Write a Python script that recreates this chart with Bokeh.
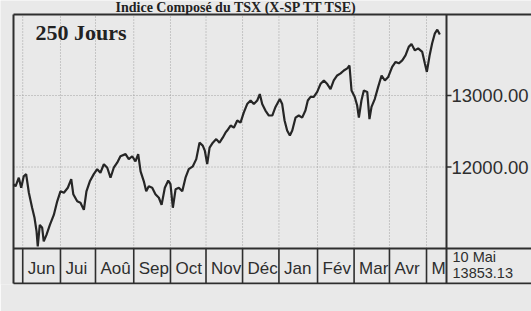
from bokeh.plotting import figure
from bokeh.models import Range1d, LinearAxis, FixedTicker, NumeralTickFormatter
from bokeh.core.properties import value
from bokeh.embed import file_html
from bokeh.resources import INLINE

# ---------------- data ----------------
title_text = "Indice Composé du TSX (X-SP TT TSE)"
period_text = "250 Jours"
last_date = "10 Mai"

trading_day = [0, 1.2, 3.1, 4.5, 6.0, 7.4, 9.0, 10.9, 12.3, 13.5,
               14.2, 15.4, 16.8, 17.7, 19.3, 21.3, 23.6, 25.6, 27.5, 29.5,
               31.8, 33.8, 35.0, 37.3, 39.2, 41.2, 42.7, 44.7, 47.0, 49.0,
               50.9, 52.9, 54.9, 56.8, 58.7, 60.7, 62.6, 65.6, 67.5, 69.5,
               71.4, 73.0, 74.4, 76.3, 77.7, 79.2, 81.2, 83.1, 85.1, 86.7,
               88.6, 90.6, 91.9, 93.3, 94.9, 96.8, 98.8, 100.7, 102.6, 105.0,
               107.0, 108.9, 110.8, 112.0, 113.4, 114.8, 116.7, 118.7, 120.6, 122.5,
               124.1, 125.1, 127.1, 129.0, 131.0, 132.9, 134.8, 136.8, 138.8, 140.7,
               142.7, 144.2, 145.6, 147.5, 149.5, 151.5, 153.4, 155.9, 157.3, 158.7,
               160.2, 161.8, 163.2, 165.1, 167.0, 169.0, 170.9, 172.3, 173.9, 175.8,
               177.8, 179.7, 181.7, 183.7, 185.6, 187.5, 189.5, 191.5, 193.4, 195.4,
               196.7, 197.9, 199.8, 201.2, 202.2, 203.7, 205.1, 207.1, 208.4, 209.6,
               211.5, 213.5, 215.5, 217.4, 219.4, 221.7, 223.7, 225.6, 227.6, 229.5,
               231.4, 233.0, 235.0, 236.9, 239.3, 240.8, 242.0, 243.6, 245.1, 246.7,
               248.1, 249.6]

index_value = [11760, 11730, 11850, 11710, 11870, 11900, 11640, 11430, 11290, 11100,
               10890, 11190, 11150, 10960, 11050, 11190, 11330, 11520, 11660, 11640,
               11710, 11830, 11620, 11520, 11500, 11400, 11660, 11800, 11900, 11970,
               11920, 12040, 11990, 11850, 11990, 12060, 12150, 12180, 12110, 12150,
               12080, 12180, 11940, 11800, 11660, 11730, 11710, 11620, 11570, 11470,
               11710, 11810, 11760, 11430, 11690, 11710, 11660, 11850, 11970, 12010,
               12110, 12340, 12300, 12230, 12040, 12270, 12340, 12390, 12340, 12410,
               12480, 12510, 12580, 12550, 12650, 12620, 12760, 12880, 12930, 12880,
               12930, 13020, 12880, 12790, 12720, 12720, 12840, 12950, 12880, 12650,
               12510, 12440, 12510, 12690, 12720, 12690, 12790, 12930, 12980, 12980,
               13050, 13160, 13210, 13160, 13090, 13210, 13280, 13310, 13350, 13380,
               13420, 13070, 12980, 12860, 12690, 12930, 13070, 13050, 12670, 12840,
               12950, 13120, 13280, 13210, 13260, 13400, 13470, 13450, 13490, 13560,
               13680, 13720, 13630, 13660, 13610, 13450, 13330, 13560, 13730, 13870,
               13920, 13853.13]

# month boxes (trading-day positions of month starts; last = end of chart)
month_bounds = [0, 5.4, 27.5, 48.0, 70.4, 91.9, 112.7, 134.1, 155.4, 178.0, 199.4, 220.1, 241.8, 253.5]
month_labels = ["", "Jun", "Jui", "Aoû", "Sep", "Oct", "Nov", "Déc", "Jan", "Fév", "Mar", "Avr", "M"]

y_ticks = [12000, 13000]

# ---------------- layout (pixels inside the figure) ----------------
W, H = 531, 311
FRAME_L, FRAME_R, FRAME_T, FRAME_B = 0, 531, 0, 284
X0_PX = 13                    # pixel of day 0
CHART_END = month_bounds[-1]
CHART_END_PX = 446
PX_PER_DAY = (CHART_END_PX - X0_PX) / CHART_END
Y13_PX, PX_PER_1000 = 95, 71.5


def xd(px):
    return (px - X0_PX) / PX_PER_DAY


def yv(px):
    return 13000 - (px - Y13_PX) * 1000 / PX_PER_1000


BG = "#e9e9e9"
INK = "#2e2e2e"
SANS = "Liberation Sans"
SERIF = "Liberation Serif"

p = figure(width=W, height=H, output_backend="svg", toolbar_location=None,
           x_range=Range1d(xd(FRAME_L), xd(FRAME_R)),
           y_range=Range1d(yv(FRAME_B), yv(FRAME_T)),
           x_axis_location=None, y_axis_location=None,
           min_border_left=FRAME_L, min_border_right=0,
           min_border_top=FRAME_T, min_border_bottom=H - FRAME_B)
p.background_fill_color = BG
p.border_fill_color = BG
p.outline_line_color = None
p.grid.visible = False

Y_TOP, Y_BAND, Y_BOT = yv(14), yv(248), yv(283)
X_RIGHT = xd(FRAME_R) + 1

# dotted grid
inner = month_bounds[1:-1]
p.segment(x0=inner, y0=[Y_BAND] * len(inner), x1=inner, y1=[Y_TOP] * len(inner),
          line_color="#a0a0a0", line_width=1, line_dash="1 2")
p.segment(x0=[0] * len(y_ticks), y0=y_ticks, x1=[CHART_END] * len(y_ticks), y1=y_ticks,
          line_color="#a0a0a0", line_width=1, line_dash="1 2")

# month band dividers
p.segment(x0=inner, y0=[Y_BOT] * len(inner), x1=inner, y1=[Y_BAND] * len(inner),
          line_color=INK, line_width=1.6)

# borders
p.segment(x0=[0, 0, 0, 0, CHART_END], y0=[Y_TOP, Y_BAND, Y_BOT, Y_BOT, Y_BOT],
          x1=[X_RIGHT, X_RIGHT, X_RIGHT, 0, CHART_END], y1=[Y_TOP, Y_BAND, Y_BOT, Y_TOP, Y_TOP],
          line_color=INK, line_width=2)

# y tick marks
p.segment(x0=[CHART_END] * len(y_ticks), y0=y_ticks, x1=[xd(451)] * len(y_ticks), y1=y_ticks,
          line_color=INK, line_width=1.5)

# index line
p.line(trading_day, index_value, line_color="#262626", line_width=2.2)

# month labels
p.text(x=month_bounds[1:-1], y=[yv(268)] * (len(month_bounds) - 2),
       text=month_labels[1:], x_offset=5, text_font=value(SANS), text_font_size="17px",
       text_color=INK, text_baseline="middle", text_align="left")

# last date / last value box
p.text(x=[CHART_END, CHART_END], y=[yv(256.5), yv(272)],
       text=[last_date, f"{index_value[-1]:.2f}"], x_offset=6,
       text_font=value(SANS), text_font_size="14.5px", text_color=INK,
       text_baseline="middle", text_align="left")

# "250 Jours"
p.text(x=[0], y=[yv(31.5)], text=[period_text], x_offset=22,
       text_font=value(SERIF), text_font_style="bold", text_font_size="22px",
       text_color="#222222", text_baseline="middle", text_align="left")

# title, in the strip above the chart box
p.text(x=[xd(236)], y=[yv(7)], text=[title_text],
       text_font=value(SERIF), text_font_style="bold", text_font_size="14px",
       text_color="#222222", text_baseline="middle", text_align="center")

# right value axis
yaxis = LinearAxis(ticker=FixedTicker(ticks=y_ticks),
                   formatter=NumeralTickFormatter(format="0.00"),
                   axis_line_color=None, major_tick_line_color=None,
                   minor_tick_line_color=None, major_tick_in=0, major_tick_out=0,
                   major_label_standoff=451 - FRAME_R,
                   major_label_text_font=SANS, major_label_text_font_size="18.5px",
                   major_label_text_color=INK)
p.add_layout(yaxis, "right")

open("out.html", "w").write(file_html(p, INLINE))
